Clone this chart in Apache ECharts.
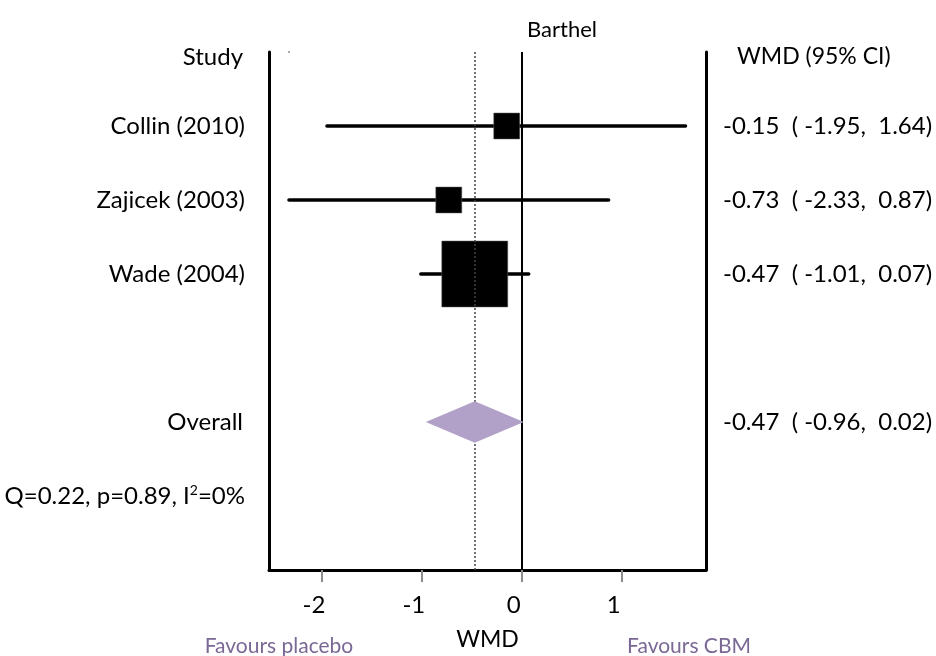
<!DOCTYPE html>
<html>
<head>
<meta charset="utf-8">
<script src="https://cdn.jsdelivr.net/npm/echarts@6/dist/echarts.min.js"></script>
<style>
  html, body { margin: 0; padding: 0; background: #fff; }
  #chart { width: 936px; height: 656px; }
</style>
</head>
<body>
<div id="chart"></div>
<script>
// Forest plot: Barthel index, weighted mean difference (WMD) with 95% CI
const studies = ['Collin (2010)', 'Zajicek (2003)', 'Wade (2004)'];
const studyRows = [1, 2, 3];
const wmd = [-0.15, -0.73, -0.47];
const ciLow = [-1.95, -2.33, -1.01];
const ciHigh = [1.64, 0.87, 0.07];
const boxSizes = [26, 26, 66];

const overallRow = 5;
const overallWmd = -0.47;
const overallLow = -0.96;
const overallHigh = 0.02;

const heterogeneityRow = 6;
const xTicks = [-2, -1, 0, 1];

const FONT = 'Lato';
const FS = 24;
const fmt = v => v.toFixed(2);
const ciText = (e, l, h) => fmt(e) + '  ( ' + fmt(l) + ',  ' + fmt(h) + ')';

const leftLabels = { 0: '{hdr|Study}', [overallRow]: '{ovr|Overall}' };
studies.forEach((s, i) => { leftLabels[studyRows[i]] = s; });
const rightLabels = { 0: '{hdr|WMD (95% CI)}', [overallRow]: ciText(overallWmd, overallLow, overallHigh) };
studies.forEach((s, i) => { rightLabels[studyRows[i]] = ciText(wmd[i], ciLow[i], ciHigh[i]); });

const chart = echarts.init(document.getElementById('chart'));

const yBase = {
  type: 'value', inverse: true, min: 0, max: 7,
  splitLine: { show: false },
  axisTick: { show: false },
  axisLine: { show: true, onZero: false, lineStyle: { color: '#000', width: 3, cap: 'round' } }
};

chart.setOption({
  animation: false,
  backgroundColor: '#fff',
  textStyle: { fontFamily: FONT },
  grid: { left: 269, right: 230, top: 52, bottom: 81 },
  xAxis: {
    type: 'value', min: -2.53, max: 1.845,
    splitLine: { show: false },
    axisLine: { onZero: false, lineStyle: { color: '#000', width: 3 } },
    axisTick: { show: true, customValues: xTicks, length: 12, lineStyle: { color: '#8c8c8c', width: 2 } },
    axisLabel: {
      customValues: xTicks, color: '#000', fontSize: 24, fontFamily: FONT,
      margin: 23, padding: [0, 16, 0, 0]
    },
    name: 'WMD', nameLocation: 'middle', nameGap: 58,
    nameTextStyle: { color: '#000', fontSize: 23, fontFamily: FONT }
  },
  yAxis: [
    Object.assign({}, yBase, {
      position: 'left',
      axisLabel: {
        customValues: [0, 1, 2, 3, overallRow, heterogeneityRow],
        margin: 24, color: '#000', fontSize: FS, fontFamily: FONT,
        formatter: v => v === heterogeneityRow
          ? '{t|Q=0.22, p=0.89, I}{sup|2}{t|=0%}'
          : (leftLabels[v] || ''),
        rich: {
          t: { fontSize: FS, fontFamily: FONT, color: '#000' },
          sup: { fontSize: 14, fontFamily: FONT, color: '#000', padding: [0, 0, 12, 0] },
          hdr: { fontSize: FS, fontFamily: FONT, color: '#000', padding: [10, 2, 0, 0] },
          ovr: { fontSize: FS, fontFamily: FONT, color: '#000', padding: [0, 2, 0, 0] }
        }
      }
    }),
    Object.assign({}, yBase, {
      position: 'right',
      axisLabel: {
        customValues: [0, 1, 2, 3, overallRow],
        margin: 17, color: '#000', fontSize: FS, fontFamily: FONT, align: 'left',
        formatter: v => rightLabels[v] || '',
        rich: { hdr: { fontSize: 23, fontFamily: FONT, color: '#000', padding: [10, 0, 0, 14] } }
      }
    })
  ],
  graphic: [
    { type: 'text', x: 562, y: 30, style: { text: 'Barthel', fill: '#000', font: '22px ' + FONT, textAlign: 'center', textVerticalAlign: 'middle' } },
    { type: 'text', x: 279, y: 646, style: { text: 'Favours placebo', fill: '#7a6895', font: '21px ' + FONT, textAlign: 'center', textVerticalAlign: 'middle' } },
    { type: 'text', x: 689, y: 646, style: { text: 'Favours CBM', fill: '#7a6895', font: '21px ' + FONT, textAlign: 'center', textVerticalAlign: 'middle' } }
  ],
  series: [
    {
      // reference lines: no effect and pooled estimate
      type: 'line', data: [], silent: true,
      markLine: {
        symbol: 'none', silent: true, label: { show: false },
        data: [
          { xAxis: 0, lineStyle: { color: '#000', width: 2, type: 'solid' } },
          { xAxis: overallWmd, lineStyle: { color: '#444', width: 1.5, type: [2, 2] } }
        ]
      }
    },
    {
      // confidence interval whiskers
      type: 'custom', z: 3,
      data: studies.map((s, i) => [ciLow[i], ciHigh[i], studyRows[i]]),
      renderItem: (params, api) => {
        const p1 = api.coord([api.value(0), api.value(2)]);
        const p2 = api.coord([api.value(1), api.value(2)]);
        return {
          type: 'line',
          shape: { x1: p1[0], y1: p1[1], x2: p2[0], y2: p2[1] },
          style: { stroke: '#000', lineWidth: 3.5, lineCap: 'round' }
        };
      }
    },
    {
      // study point estimates, sized by weight
      type: 'scatter', z: 4, symbol: 'rect',
      data: studies.map((s, i) => ({ value: [wmd[i], studyRows[i]], symbolSize: boxSizes[i] })),
      itemStyle: { color: '#000', borderColor: '#666', borderWidth: 0.5, opacity: 1 }
    },
    {
      // pooled estimate diamond
      type: 'custom', z: 5,
      data: [[overallLow, overallWmd, overallHigh, overallRow]],
      renderItem: (params, api) => {
        const r = api.value(3), h = 0.28;
        const pts = [
          api.coord([api.value(0), r]),
          api.coord([api.value(1), r - h]),
          api.coord([api.value(2), r]),
          api.coord([api.value(1), r + h])
        ];
        return { type: 'polygon', shape: { points: pts }, style: { fill: '#b1a0c7' } };
      }
    },
    {
      type: 'scatter', z: 2, symbol: 'circle', symbolSize: 2,
      data: [[ciLow[1], 0]],
      itemStyle: { color: '#777' }
    }
  ]
});
</script>
</body>
</html>
